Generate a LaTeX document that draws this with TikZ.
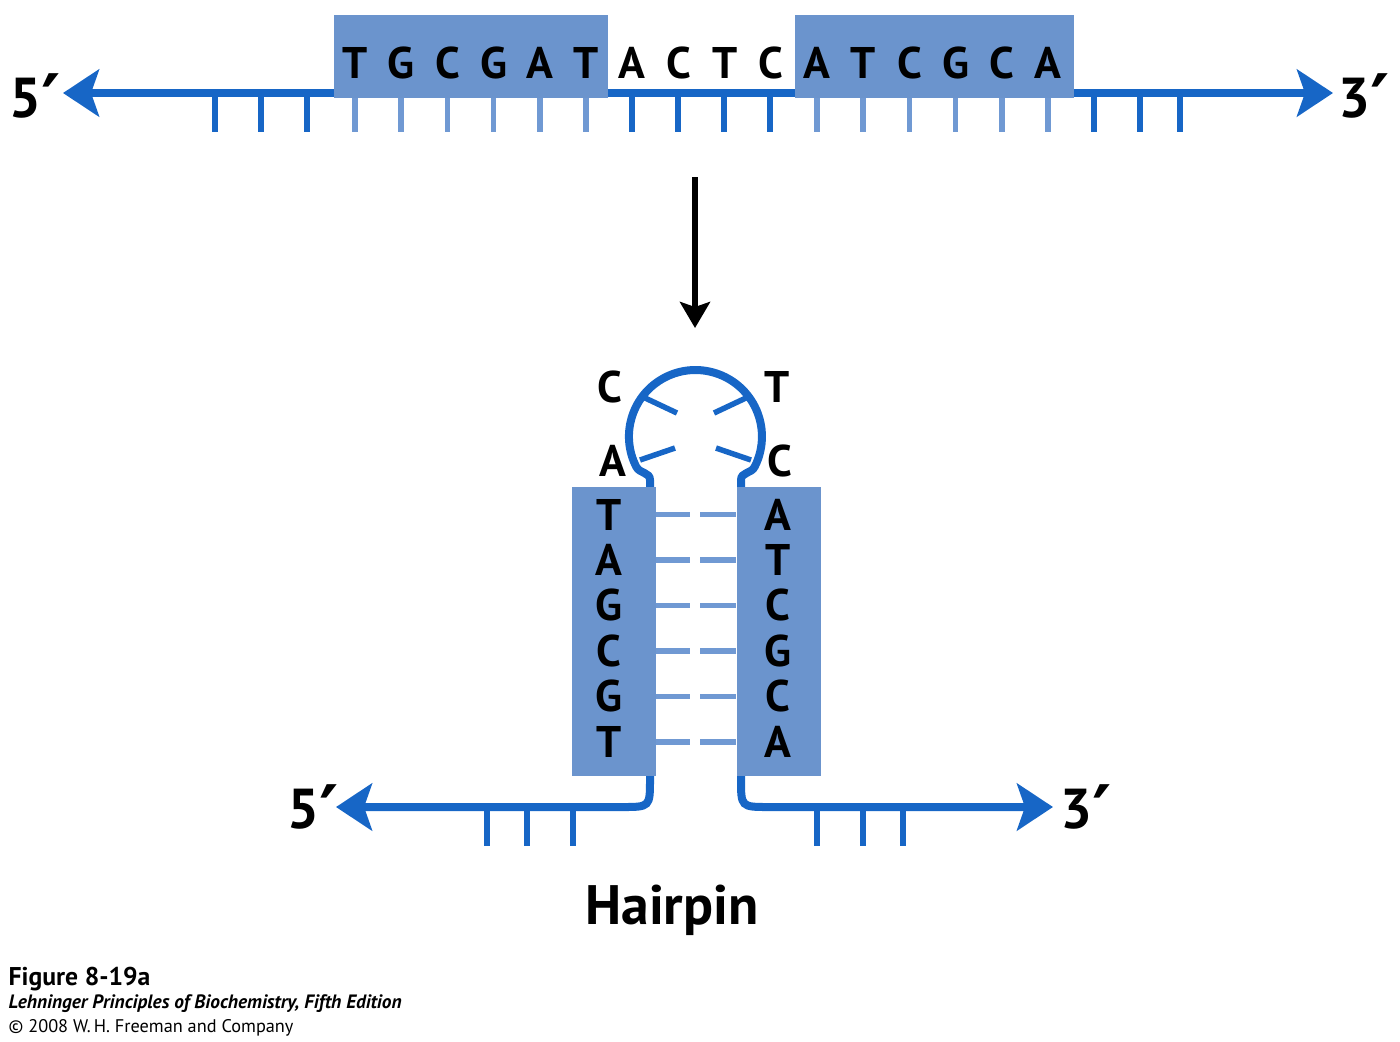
\documentclass[tikz,border=0pt]{standalone}
\usepackage{fontspec}
\setmainfont{PT Sans}
\newfontfamily\primefont{DejaVu Sans}
\usetikzlibrary{arrows.meta}
\definecolor{strandblue}{HTML}{1766C6}
\definecolor{boxblue}{HTML}{6B94CD}
\definecolor{tickblue}{HTML}{7099D3}
\newcommand{\pr}{\raisebox{-3pt}{\primefont\bfseries\fontsize{21}{21}\selectfont ′}}

\begin{document}
\begin{tikzpicture}[x=0.01cm, y=-0.01cm,
  strand/.style={draw=strandblue, line width=0.08cm},
  endtip/.tip={Stealth[length=0.36cm, width=0.47cm, inset=0.08cm]},
  dtick/.style={draw=strandblue, line width=0.055cm},
  ltick/.style={draw=tickblue, line width=0.055cm},
  repeatbox/.style={fill=boxblue, draw=none},
  nuc/.style={font=\fontsize{12.6}{14}\selectfont\bfseries, inner sep=0pt, anchor=base},
  endlbl/.style={font=\fontsize{16}{18}\selectfont\bfseries, inner sep=0pt, anchor=base west},
  capt/.style={inner sep=0pt, anchor=base west}
]
  \useasboundingbox (0,0) rectangle (1400,1041);

  % top strand
  \foreach \x in {215,261,307,632,678,724,770,1094,1140,1180}
    \draw[dtick] (\x,93) -- (\x,132);
  \foreach \i in {0,...,5,10,11,...,15}
    \draw[ltick] ({355+46.2*\i},93) -- ({355+46.2*\i},132);
  \coordinate (top5) at (63,93);
  \coordinate (top3) at (1333,93);
  \draw[strand, endtip-endtip] (top5) -- (top3);
  \node[repeatbox, minimum width=2.74cm, minimum height=0.83cm, anchor=north west] (rep1) at (333,14) {};
  \node[repeatbox, minimum width=2.79cm, minimum height=0.83cm, anchor=north west] (rep2) at (794,14) {};
  \foreach \b [count=\i from 0] in {T,G,C,G,A,T,A,C,T,C,A,T,C,G,C,A}
    \node[nuc] (n\i) at ({355+46.2*\i},78) {\b};
  \node[endlbl] (lbl5) at (9,117) {5\pr};
  \node[endlbl] (lbl3) at (1338,117) {3\pr};

  % arrow down
  \coordinate (arrtop) at (695,177);
  \coordinate (arrbot) at (695,328);
  \draw[line width=0.06cm, -{Stealth[length=0.26cm, width=0.3cm, inset=0.05cm]}] (arrtop) -- (arrbot);

  % hairpin
  \coordinate (hp5) at (336,807);
  \coordinate (hp3) at (1053,807);
  \coordinate (loopc) at (695.5,436.5);
  \foreach \x in {487,527,573,817,863,903}
    \draw[dtick] (\x,807) -- (\x,846);
  \foreach \y in {514.5,560,605.5,651,696.5,742}{
    \draw[ltick] (655,\y) -- (690,\y);
    \draw[ltick] (700,\y) -- (736,\y);
  }
  \draw[dtick] (643,397) -- (677,413);
  \draw[dtick] (748,397) -- (714,413);
  \draw[dtick] (640,460) -- (675,448);
  \draw[dtick] (751,460) -- (716,448);
  \draw[strand, endtip-endtip] (hp5) -- (622,807) .. controls (650,807) .. (650,779)
    -- (650,480) .. controls (650,472) and (639.8,473.8) .. (636.2,466.7)
    arc[start angle=153, end angle=387, radius=66.5]
    .. controls (751.2,473.8) and (741,472) .. (741,480)
    -- (741,779) .. controls (741,807) .. (769,807) -- (hp3);
  \node[repeatbox, minimum width=0.84cm, minimum height=2.89cm, anchor=north west] (stemL) at (571,486) {};
  \node[repeatbox, minimum width=0.84cm, minimum height=2.89cm, anchor=north west] (stemR) at (736,486) {};
  \foreach \b [count=\i from 0] in {T,A,G,C,G,T}
    \node[nuc] (sl\i) at (609,{530+45.4*\i}) {\b};
  \foreach \b [count=\i from 0] in {A,T,C,G,C,A}
    \node[nuc] (sr\i) at (778,{530+45.4*\i}) {\b};
  \node[nuc] (lpC) at (610,402) {C};
  \node[nuc] (lpT) at (777,402) {T};
  \node[nuc] (lpA) at (613,476) {A};
  \node[nuc] (lpC2) at (780,476) {C};
  \node[endlbl] (hl5) at (287,828) {5\pr};
  \node[endlbl] (hl3) at (1060,828) {3\pr};
  \node[font=\fontsize{15.8}{18}\selectfont\bfseries, inner sep=0pt, anchor=base] (hairpin) at (672,924) {Hairpin};

  % caption
  \node[capt, font=\fontsize{7.3}{9}\selectfont\bfseries] (fig) at (8,985) {Figure 8-19a};
  \node[capt, font=\fontsize{5.5}{7}\selectfont\bfseries\itshape] (book) at (8,1008) {Lehninger Principles of Biochemistry, Fifth Edition};
  \node[capt, font=\fontsize{5.2}{7}\selectfont] (copy) at (8,1032) {© 2008 W.\,H. Freeman and Company};
\end{tikzpicture}
\end{document}
